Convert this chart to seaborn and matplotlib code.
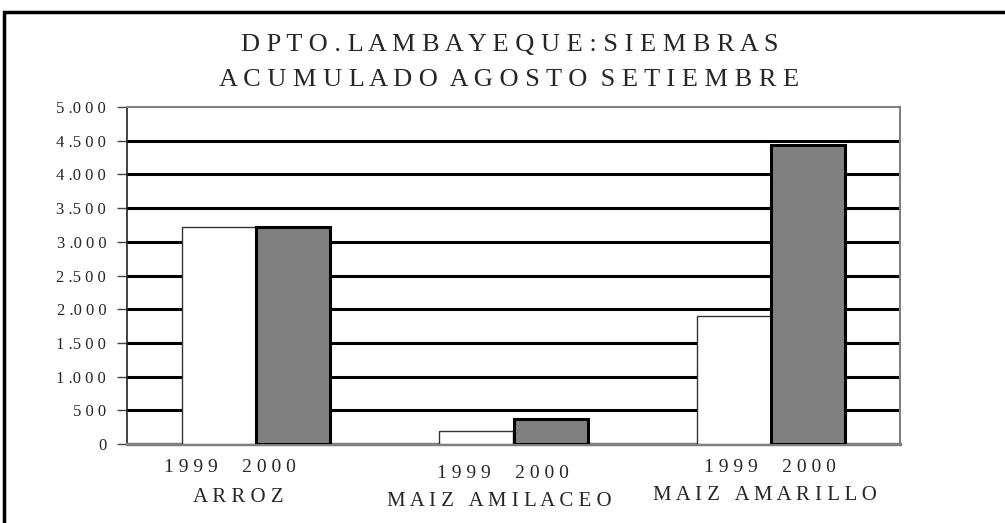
import matplotlib
matplotlib.use("Agg")
import matplotlib.pyplot as plt
import matplotlib.patches as mpatches
import seaborn as sns
import pandas as pd
import numpy as np

categories = ["ARROZ", "MAIZ AMILACEO", "MAIZ AMARILLO"]
years = ["1999", "2000"]
values_1999 = [3220, 190, 1900]
values_2000 = [3225, 370, 4430]
yticks = [0, 500, 1000, 1500, 2000, 2500, 3000, 3500, 4000, 4500, 5000]
title_lines = ["DPTO.LAMBAYEQUE:SIEMBRAS", "ACUMULADO AGOSTO SETIEMBRE"]

def spaced(s):
    return " ".join(s)

df = pd.DataFrame({
    "cat": categories * 2,
    "year": [years[0]] * 3 + [years[1]] * 3,
    "val": values_1999 + values_2000,
})

sns.set_style("white")
plt.rcParams["font.family"] = ["Liberation Serif", "DejaVu Serif"]

fig = plt.figure(figsize=(10.05, 5.23), dpi=100)
ax = fig.add_axes([127/1005, 1 - 444/523, (900-127)/1005, (444-107)/523])

sns.barplot(data=df, x="cat", y="val", hue="year", order=categories,
            hue_order=years, palette=["white", "#808080"], width=0.575,
            ax=ax, legend=False, zorder=3)

for i, bar in enumerate(ax.patches):
    if i < 3:
        bar.set_edgecolor("#333333")
        bar.set_linewidth(1.0)
    else:
        bar.set_edgecolor("black")
        bar.set_linewidth(2.2)

ax.set_ylim(0, 5000)
ax.set_xlim(-0.5, 2.5)
ax.set_yticks(yticks)
def fmt(v):
    s = f"{v:,}".replace(",", ".")
    out = ""
    for ch in s:
        if ch == ".":
            out += " ."
        else:
            out += (ch if out == "" or out.endswith(".") else " " + ch)
    return out
ax.set_yticklabels([fmt(v) for v in yticks], fontsize=12)
for y in yticks[1:-1]:
    ax.axhline(y, color="black", lw=2.2, zorder=1)
ax.tick_params(axis="y", which="both", left=True, length=7, width=1, color="#444444", pad=8)
ax.tick_params(axis="x", bottom=False, labelbottom=False)
ax.set_xlabel("")
ax.set_ylabel("")
for side in ["top", "right"]:
    ax.spines[side].set_color("#808080")
    ax.spines[side].set_linewidth(1.5)
ax.spines["left"].set_color("#222222")
ax.spines["left"].set_linewidth(1.2)
ax.spines["bottom"].set_color("#808080")
ax.spines["bottom"].set_linewidth(2.5)

# label placement (pixel offsets from category centre, figure-pixel rows)
year_dx = [-26, -11, -1]
name_dx = [-18, -14, -6]
year_y = [468, 473, 468]
name_y = [498, 502, 495]
for i, c in enumerate(categories):
    t1 = matplotlib.transforms.offset_copy(
        matplotlib.transforms.blended_transform_factory(ax.transData, fig.transFigure),
        fig=fig, x=year_dx[i], y=0, units="dots")
    t2 = matplotlib.transforms.offset_copy(
        matplotlib.transforms.blended_transform_factory(ax.transData, fig.transFigure),
        fig=fig, x=name_dx[i], y=0, units="dots")
    ax.text(i, 1 - year_y[i]/523, spaced("1999") + "     " + spaced("2000"), transform=t1,
            ha="center", va="center", fontsize=14)
    ax.text(i, 1 - name_y[i]/523, spaced(c).replace("   ", "   "), transform=t2,
            ha="center", va="center", fontsize=15)

fig.text(0.507, 1 - 45/523, spaced(title_lines[0]).replace("   ", "  "), ha="center", va="center", fontsize=19)
fig.text(0.507, 1 - 80/523, spaced(title_lines[1]).replace("   ", "  "), ha="center", va="center", fontsize=19)

border = mpatches.Rectangle((4/1005, -0.05), 1.2, 1 - 12/523 + 0.05, transform=fig.transFigure,
                            fill=False, edgecolor="black", lw=2.5, clip_on=False)
fig.patches.append(border)

fig.savefig("out.png", dpi=100, facecolor="white")
